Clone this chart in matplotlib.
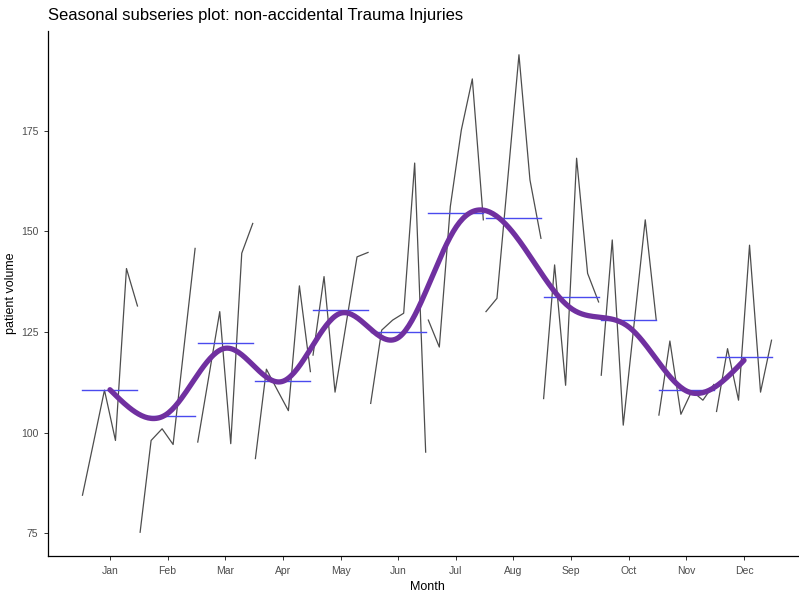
import numpy as np
import matplotlib
matplotlib.use("Agg")
import matplotlib.pyplot as plt

plt.rcParams["font.family"] = ["Liberation Sans", "DejaVu Sans"]

months = ["Jan", "Feb", "Mar", "Apr", "May", "Jun", "Jul", "Aug", "Sep", "Oct", "Nov", "Dec"]

# yearly values per month (6 years each)
jan = [84.5, 97.5, 110.6, 98.1, 140.8, 131.5]
feb = [75.3, 98.1, 101.0, 97.1, 121.5, 145.8]
mar = [97.7, 113.9, 130.1, 97.3, 144.6, 152.0]
apr = [93.6, 115.8, 110.6, 105.5, 136.5, 115.2]
may = [119.3, 138.8, 110.1, 126.9, 143.7, 144.8]
jun = [107.3, 125.5, 128.0, 129.7, 167.0, 95.2]
jul = [128.0, 121.3, 156.2, 175.2, 187.9, 152.9]
aug = [130.1, 133.4, 163.6, 193.9, 162.8, 148.3]
sep = [108.5, 141.7, 111.8, 168.2, 139.6, 132.5]
oct_ = [114.3, 147.9, 101.9, 127.4, 152.9, 128.0]
nov = [104.4, 122.8, 104.6, 110.4, 108.1, 112.0]
dec = [105.3, 120.9, 108.1, 146.6, 110.1, 123.0]

# monthly average (blue bars) and smoothed seasonal level (purple)
month_mean = [110.6, 104.1, 122.2, 112.9, 130.6, 125.1, 154.5, 153.3, 133.8, 128.0, 110.6, 118.9]
smooth_level = [110.7, 104.8, 121.0, 112.8, 129.7, 123.6, 151.0, 149.6, 130.9, 126.3, 110.4, 118.0]

series = [jan, feb, mar, apr, may, jun, jul, aug, sep, oct_, nov, dec]


def natural_spline(x, y, xs):
    x = np.asarray(x, float)
    y = np.asarray(y, float)
    n = len(x)
    h = np.diff(x)
    A = np.zeros((n, n))
    b = np.zeros(n)
    A[0, 0] = A[-1, -1] = 1
    for i in range(1, n - 1):
        A[i, i - 1] = h[i - 1]
        A[i, i] = 2 * (h[i - 1] + h[i])
        A[i, i + 1] = h[i]
        b[i] = 6 * ((y[i + 1] - y[i]) / h[i] - (y[i] - y[i - 1]) / h[i - 1])
    M = np.linalg.solve(A, b)
    idx = np.clip(np.searchsorted(x, xs) - 1, 0, n - 2)
    x0, x1 = x[idx], x[idx + 1]
    hh = x1 - x0
    t0, t1 = x1 - xs, xs - x0
    return (M[idx] * t0 ** 3 / (6 * hh) + M[idx + 1] * t1 ** 3 / (6 * hh)
            + (y[idx] / hh - M[idx] * hh / 6) * t0
            + (y[idx + 1] / hh - M[idx + 1] * hh / 6) * t1)


fig = plt.figure(figsize=(7.99, 5.95), dpi=100)
ax = fig.add_axes([48 / 799, 39 / 595, 758 / 799, 525 / 595])

offs = np.linspace(-0.477, 0.477, 6)
for i, vals in enumerate(series):
    m = i + 1
    ax.plot(m + offs, vals, color="#2e2e2e", lw=0.9, alpha=0.85)
    ax.plot([m - 0.477, m + 0.477], [month_mean[i]] * 2, color="#4a4aee", lw=1.0)

xs = np.linspace(1, 12, 400)
ax.plot(xs, natural_spline(np.arange(1, 13), smooth_level, xs),
        color="#7030a0", lw=3.8, solid_capstyle="round")

ax.set_xlim(-0.075, 13.075)
ax.set_ylim(69.4, 199.8)
ax.set_xticks(range(1, 13))
ax.set_xticklabels(months)
ax.set_yticks([75, 100, 125, 150, 175])

for s in ["top", "right"]:
    ax.spines[s].set_visible(False)
for s in ["left", "bottom"]:
    ax.spines[s].set_linewidth(0.9)
    ax.spines[s].set_color("black")
ax.tick_params(length=3, width=0.7, color="#333333", labelsize=7.5, labelcolor="#4d4d4d", pad=4)

ax.set_xlabel("Month", fontsize=9, labelpad=4)
ax.set_ylabel("patient volume", fontsize=9, labelpad=3)
ax.set_title("Seasonal subseries plot: non-accidental Trauma Injuries", loc="left", fontsize=12, pad=8)

fig.savefig("out.png", dpi=100)
